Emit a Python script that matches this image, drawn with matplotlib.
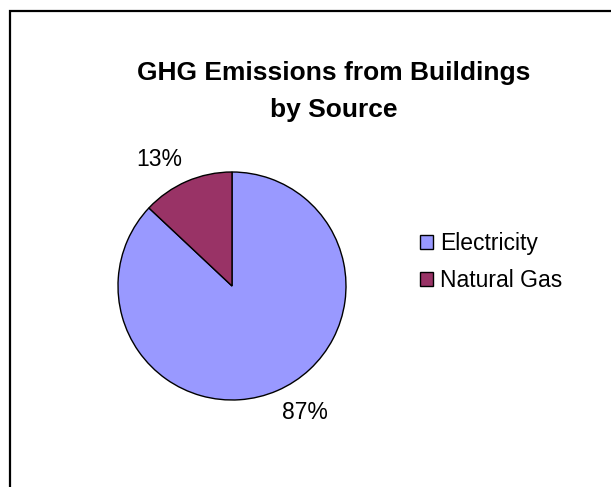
import matplotlib
matplotlib.use('Agg')
import matplotlib.pyplot as plt
from matplotlib.patches import Rectangle, Patch
import numpy as np

sources = ['Electricity', 'Natural Gas']
shares = [87, 13]
colors = ['#9999ff', '#993366']

plt.rcParams['font.family'] = ['Liberation Sans', 'DejaVu Sans']

fig = plt.figure(figsize=(6.11, 4.87), dpi=100)
W, H = 611, 487

# chart frame: only left and top edges fall inside the picture
fig.patches.append(Rectangle((10 / W, -0.05), 1.1, 1 - 11 / H + 0.05,
                             transform=fig.transFigure, fill=False,
                             edgecolor='black', linewidth=1.6))

cx, cy, r = 232, 286, 114
ax = fig.add_axes([(cx - r) / W, 1 - (cy + r) / H, 2 * r / W, 2 * r / H])
wedges, texts = ax.pie(shares, colors=colors, startangle=90, counterclock=False,
                       wedgeprops=dict(edgecolor='black', linewidth=1.0),
                       labels=[f'{s}%' for s in shares], labeldistance=1.28,
                       textprops=dict(fontsize=16.5))
# labels sit a little counter-clockwise of the wedge middles
rot = np.deg2rad(6.6)
for t in texts:
    x, y = t.get_position()
    t.set_position((x * np.cos(rot) - y * np.sin(rot), x * np.sin(rot) + y * np.cos(rot)))
    t.set_ha('center')
    t.set_va('center')
ax.set_xlim(-1, 1)
ax.set_ylim(-1, 1)
ax.set_aspect('equal')

fig.text(334 / W, 1 - 73 / H, 'GHG Emissions from Buildings', ha='center', va='center',
         fontsize=19, fontweight='bold')
fig.text(334 / W, 1 - 110 / H, 'by Source', ha='center', va='center',
         fontsize=19, fontweight='bold')

handles = [Patch(facecolor=c, edgecolor='black', label=s) for c, s in zip(colors, sources)]
fig.legend(handles=handles, loc='center left', bbox_to_anchor=(404 / W, 1 - 262 / H),
           frameon=False, fontsize=16.5, handlelength=0.57, handleheight=0.57,
           handletextpad=0.3, labelspacing=0.62, borderpad=0.2)

fig.savefig('out.png', dpi=100)
